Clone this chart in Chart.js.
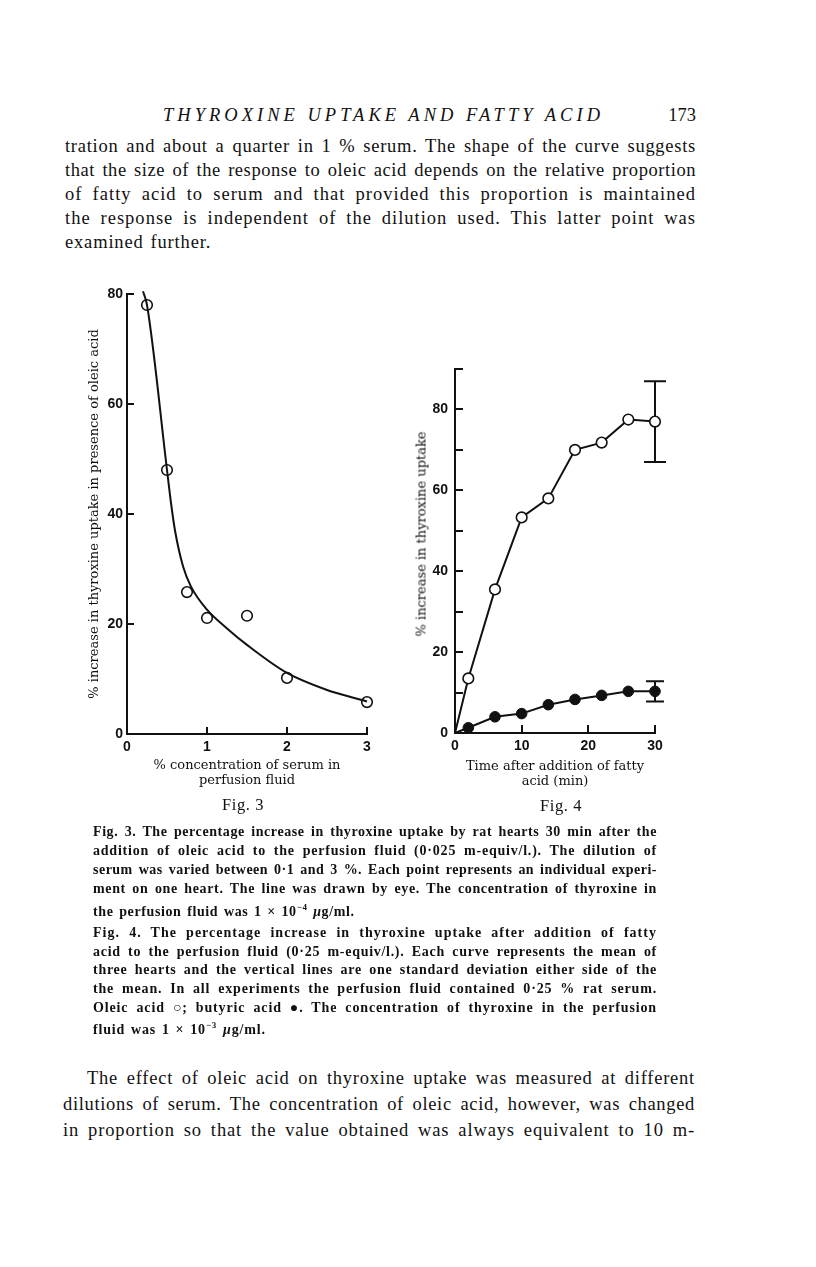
<!DOCTYPE html>
<html>
<head>
<meta charset="utf-8">
<script src="https://cdn.jsdelivr.net/npm/chart.js@4"></script>
<style>
  html, body { margin:0; padding:0; background:#fff; }
  body { width:816px; height:1267px; position:relative; overflow:hidden; color:#111; }
  .t { position:absolute; white-space:nowrap; font-family:"Liberation Serif", "DejaVu Serif", serif; }
  .body { font-size:18.5px; line-height:24px; }
  .cap { font-size:14px; line-height:19px; font-weight:bold; }
  canvas { position:absolute; }
</style>
</head>
<body>
<script>
// ---------- Fig. 3 data ----------
const fig3SerumPct   = [0.25, 0.5, 0.75, 1.0, 1.5, 2.0, 3.0];
const fig3Increase   = [78, 48, 25.8, 21.1, 21.5, 10.2, 5.8];
const fig3CurveX     = [0.2, 0.25, 0.5, 0.55, 0.6, 0.7, 0.8, 1.0, 1.25, 1.5, 2.0, 2.5, 3.0, 3.1];
const fig3CurveY     = [80.5, 78, 48, 42, 37, 30.5, 26.8, 22.6, 19.2, 16.2, 11.1, 8.0, 5.9, 5.4];
const fig3XTicks     = [0, 1, 2, 3];
const fig3YTicks     = [0, 20, 40, 60, 80];

// ---------- Fig. 4 data ----------
const fig4Time       = [0, 2, 6, 10, 14, 18, 22, 26, 30];
const fig4Oleic      = [0, 13.5, 35.5, 53.3, 58, 70, 71.8, 77.5, 77];
const fig4OleicSD    = [null, null, null, null, null, null, null, null, 10];
const fig4Butyric    = [0, 1.3, 4.0, 4.8, 7.0, 8.3, 9.3, 10.3, 10.3];
const fig4ButyricSD  = [null, null, null, null, null, null, null, null, 2.5];
const fig4XTicks     = [0, 10, 20, 30];
const fig4YTicks     = [0, 10, 20, 30, 40, 50, 60, 70, 80, 90];
const fig4YLabelled  = [0, 20, 40, 60, 80];
</script>

<div class="t body" id="hdr" style="left:163px; top:103px; font-style:italic;" data-w="437"><span>THYROXINE UPTAKE AND FATTY ACID</span></div>
<div class="t body" style="left:664px; top:103px; width:32px; text-align:right;"><span>173</span></div>

<div class="blk" data-ls="">
<div class="t body j" style="left:65px; top:134px;" data-w="631"><span>tration and about a quarter in 1 % serum. The shape of the curve suggests</span></div>
<div class="t body j" style="left:65px; top:158px;" data-w="631"><span>that the size of the response to oleic acid depends on the relative proportion</span></div>
<div class="t body j" style="left:65px; top:182px;" data-w="631"><span>of fatty acid to serum and that provided this proportion is maintained</span></div>
<div class="t body j" style="left:65px; top:206px;" data-w="631"><span>the response is independent of the dilution used. This latter point was</span></div>
<div class="t body e" style="left:65px; top:230px;"><span>examined further.</span></div>
</div>

<canvas id="fig3" width="360" height="560" style="left:40px; top:270px;"></canvas>
<canvas id="fig4" width="300" height="480" style="left:400px; top:340px;"></canvas>
<div class="t" style="left:421px; top:534px; font-family:'DejaVu Serif'; font-size:13px; line-height:15px; transform:translate(-50%,-50%) rotate(-90deg);">% increase in thyroxine uptake</div>

<div class="t" style="left:243px; top:805px; font-size:16.5px; transform:translate(-50%,-50%); letter-spacing:0.6px;">Fig. 3</div>
<div class="t" style="left:561px; top:806px; font-size:16.5px; transform:translate(-50%,-50%); letter-spacing:0.6px;">Fig. 4</div>

<div class="blk">
<div class="t cap j" style="left:93px; top:822px;" data-w="564"><span>Fig. 3. The percentage increase in thyroxine uptake by rat hearts 30 min after the</span></div>
<div class="t cap j" style="left:93px; top:841px;" data-w="564"><span>addition of oleic acid to the perfusion fluid (0·025 m-equiv/l.). The dilution of</span></div>
<div class="t cap j" style="left:93px; top:860px;" data-w="564"><span>serum was varied between 0·1 and 3 %. Each point represents an individual experi-</span></div>
<div class="t cap j" style="left:93px; top:879px;" data-w="564"><span>ment on one heart. The line was drawn by eye. The concentration of thyroxine in</span></div>
<div class="t cap e" style="left:93px; top:898px;"><span>the perfusion fluid was 1 × 10<sup style="font-size:9px">−4</sup> <i style="font-weight:bold">μ</i>g/ml.</span></div>
</div>

<div class="blk">
<div class="t cap j" style="left:93px; top:923px;" data-w="564"><span>Fig. 4. The percentage increase in thyroxine uptake after addition of fatty</span></div>
<div class="t cap j" style="left:93px; top:942px;" data-w="564"><span>acid to the perfusion fluid (0·25 m-equiv/l.). Each curve represents the mean of</span></div>
<div class="t cap j" style="left:93px; top:960px;" data-w="564"><span>three hearts and the vertical lines are one standard deviation either side of the</span></div>
<div class="t cap j" style="left:93px; top:979px;" data-w="564"><span>the mean. In all experiments the perfusion fluid contained 0·25 % rat serum.</span></div>
<div class="t cap j" style="left:93px; top:998px;" data-w="564"><span>Oleic acid ○; butyric acid ●. The concentration of thyroxine in the perfusion</span></div>
<div class="t cap e" style="left:93px; top:1016px;"><span>fluid was 1 × 10<sup style="font-size:9px">−3</sup> <i style="font-weight:bold">μ</i>g/ml.</span></div>
</div>

<div class="blk">
<div class="t body j" style="left:87px; top:1065px; line-height:26px;" data-w="608"><span>The effect of oleic acid on thyroxine uptake was measured at different</span></div>
<div class="t body j" style="left:63px; top:1091px; line-height:26px;" data-w="632"><span>dilutions of serum. The concentration of oleic acid, however, was changed</span></div>
<div class="t body j" style="left:63px; top:1117px; line-height:26px;" data-w="632"><span>in proportion so that the value obtained was always equivalent to 10 m-</span></div>
</div>

<script>
// justify single lines: share the slack between letter spacing and word spacing
document.querySelectorAll('.blk').forEach(blk => {
  const lss = [];
  blk.querySelectorAll('.j').forEach(el => {
    const span = el.firstElementChild;
    const target = parseFloat(el.dataset.w);
    const txt = span.textContent;
    let nat = span.getBoundingClientRect().width;
    let ls = (target - nat) * 0.6 / txt.length;
    ls = Math.max(-0.6, Math.min(1.4, ls));
    span.style.letterSpacing = ls + 'px';
    lss.push(ls);
    nat = span.getBoundingClientRect().width;
    const spaces = (txt.match(/ /g) || []).length;
    if (spaces) span.style.wordSpacing = ((target - nat) / spaces) + 'px';
  });
  const avg = lss.reduce((a, b) => a + b, 0) / Math.max(1, lss.length);
  blk.querySelectorAll('.e').forEach(el => {
    el.firstElementChild.style.letterSpacing = Math.min(avg, 0.9) + 'px';
    el.firstElementChild.style.wordSpacing = '1.5px';
  });
});
(function(){
  const el = document.getElementById('hdr');
  const span = el.firstElementChild;
  const target = parseFloat(el.dataset.w);
  const nat = span.getBoundingClientRect().width;
  const n = span.textContent.length;
  span.style.letterSpacing = ((target - nat) / (n - 1)) + 'px';
})();

const INK = '#111';
const tickFont = { family: 'Liberation Sans', size: 14, weight: 'bold' };
const titleFont = { family: 'DejaVu Serif', size: 13, lineHeight: 1.15 };

// inward tick marks drawn from the chart's own scales
const inTicks = {
  id: 'inTicks',
  afterDraw(chart, args, opts) {
    const { ctx, chartArea } = chart;
    const xs = chart.scales.x, ys = chart.scales.y;
    ctx.save();
    ctx.strokeStyle = INK;
    ctx.lineWidth = 2;
    ctx.beginPath();
    (opts.x || []).forEach(v => {
      const px = Math.round(xs.getPixelForValue(v));
      ctx.moveTo(px, chartArea.bottom); ctx.lineTo(px, chartArea.bottom - opts.len);
    });
    (opts.y || []).forEach(v => {
      const py = Math.round(ys.getPixelForValue(v));
      ctx.moveTo(chartArea.left, py); ctx.lineTo(chartArea.left + opts.len, py);
    });
    ctx.stroke();
    ctx.restore();
  }
};

// standard deviation bars
const sdBars = {
  id: 'sdBars',
  beforeDatasetsDraw(chart) {
    const { ctx } = chart;
    const xs = chart.scales.x, ys = chart.scales.y;
    ctx.save();
    ctx.strokeStyle = INK;
    ctx.lineWidth = 2;
    chart.data.datasets.forEach(ds => {
      if (!ds.sd) return;
      ds.data.forEach((p, i) => {
        const sd = ds.sd[i];
        if (sd == null) return;
        const px = xs.getPixelForValue(p.x);
        const top = ys.getPixelForValue(p.y + sd);
        const bot = ys.getPixelForValue(p.y - sd);
        const cw = ds.capHalf;
        ctx.beginPath();
        ctx.moveTo(px, top); ctx.lineTo(px, bot);
        ctx.moveTo(px - cw, top); ctx.lineTo(px + cw, top);
        ctx.moveTo(px - cw, bot); ctx.lineTo(px + cw, bot);
        ctx.stroke();
      });
    });
    ctx.restore();
  }
};

function zip(xs, ys) { return xs.map((x, i) => ({ x, y: ys[i] })); }

function axisCommon(extra) {
  return Object.assign({
    type: 'linear',
    grid: { display: true, drawOnChartArea: false, drawTicks: false },
    border: { display: true, color: INK, width: 2 },
  }, extra);
}

// ---------- Fig. 3 ----------
new Chart(document.getElementById('fig3'), {
  type: 'scatter',
  data: {
    datasets: [
      {
        type: 'line',
        data: zip(fig3CurveX, fig3CurveY),
        borderColor: INK, borderWidth: 2,
        pointRadius: 0, cubicInterpolationMode: 'monotone',
        fill: false, clip: false
      },
      {
        data: zip(fig3SerumPct, fig3Increase),
        showLine: false,
        pointRadius: 5.3, pointBackgroundColor: '#fff',
        pointBorderColor: INK, pointBorderWidth: 1.6, clip: false
      }
    ]
  },
  options: {
    responsive: false, animation: false, devicePixelRatio: 1,
    layout: { padding: { left: 0, top: 24, right: 33, bottom: 36 } },
    plugins: { legend: { display: false }, tooltip: { enabled: false },
               inTicks: { x: fig3XTicks.slice(1), y: fig3YTicks.slice(1), len: 7 } },
    scales: {
      x: axisCommon({
        min: 0, max: 3,
        afterBuildTicks: s => { s.ticks = fig3XTicks.map(v => ({ value: v })); },
        afterFit: s => { s.height = 60; },
        ticks: { color: INK, font: tickFont, padding: 5, maxRotation: 0 },
        title: { display: true, text: ['% concentration of serum in', 'perfusion fluid'],
                 color: INK, font: titleFont, padding: { top: 0, bottom: 6 } }
      }),
      y: axisCommon({
        min: 0, max: 80,
        afterBuildTicks: s => { s.ticks = fig3YTicks.map(v => ({ value: v })); },
        afterFit: s => { s.width = 87; },
        ticks: { color: INK, font: tickFont, padding: 4 },
        title: { display: true, text: '% increase in thyroxine uptake in presence of oleic acid',
                 color: INK, font: titleFont, padding: { top: 47.5, bottom: 0 } }
      })
    }
  },
  plugins: [inTicks]
});

// ---------- Fig. 4 ----------
new Chart(document.getElementById('fig4'), {
  type: 'line',
  data: {
    datasets: [
      {
        label: 'Oleic acid',
        data: zip(fig4Time, fig4Oleic),
        sd: fig4OleicSD, capHalf: 11,
        borderColor: INK, borderWidth: 2, tension: 0,
        pointRadius: fig4Time.map((t, i) => i === 0 ? 0 : 5.3),
        pointBackgroundColor: '#fff', pointBorderColor: INK, pointBorderWidth: 1.6,
        clip: false
      },
      {
        label: 'Butyric acid',
        data: zip(fig4Time, fig4Butyric),
        sd: fig4ButyricSD, capHalf: 9,
        borderColor: INK, borderWidth: 2, tension: 0,
        pointRadius: fig4Time.map((t, i) => i === 0 ? 0 : 5.3),
        pointBackgroundColor: INK, pointBorderColor: INK, pointBorderWidth: 1,
        clip: false
      }
    ]
  },
  options: {
    responsive: false, animation: false, devicePixelRatio: 1,
    layout: { padding: { left: 0, top: 29, right: 45, bottom: 27 } },
    plugins: { legend: { display: false }, tooltip: { enabled: false },
               inTicks: { x: fig4XTicks.slice(1), y: fig4YTicks.slice(1), len: 8 } },
    scales: {
      x: axisCommon({
        min: 0, max: 30,
        afterBuildTicks: s => { s.ticks = fig4XTicks.map(v => ({ value: v })); },
        afterFit: s => { s.height = 60; },
        ticks: { color: INK, font: tickFont, padding: 5, maxRotation: 0 },
        title: { display: true, text: ['Time after addition of fatty', 'acid (min)'],
                 color: INK, font: titleFont, padding: { top: 0, bottom: 4 } }
      }),
      y: axisCommon({
        min: 0, max: 90,
        afterBuildTicks: s => { s.ticks = fig4YTicks.map(v => ({ value: v })); },
        afterFit: s => { s.width = 55; },
        ticks: { color: INK, font: tickFont, padding: 7,
                 callback: v => fig4YLabelled.includes(v) ? String(v) : '' }
      })
    }
  },
  plugins: [inTicks, sdBars]
});
</script>
</body>
</html>
